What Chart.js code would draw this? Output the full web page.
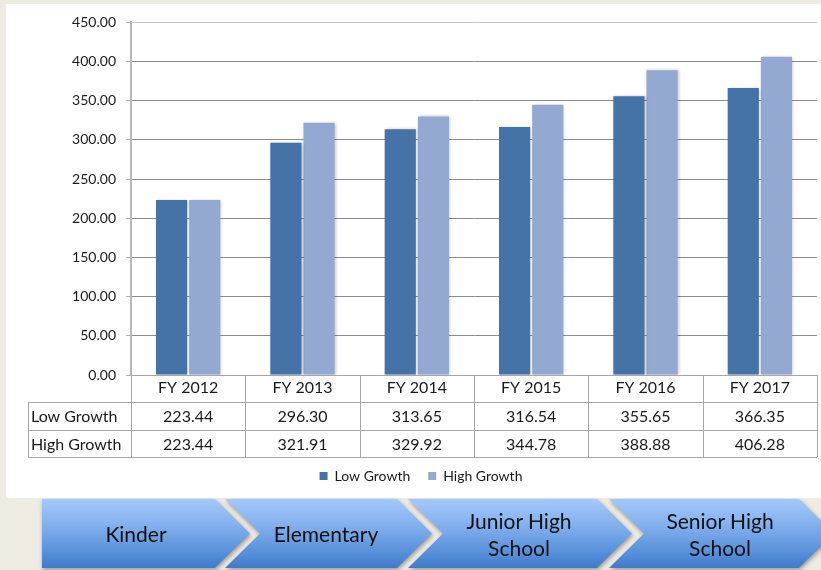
<!DOCTYPE html>
<html>
<head>
<meta charset="utf-8">
<script src="https://cdn.jsdelivr.net/npm/chart.js@4/dist/chart.umd.min.js"></script>
<style>
  html, body { margin: 0; padding: 0; }
  body { width: 821px; height: 570px; background: #eeebe3; position: relative; overflow: hidden; font-family: Lato, sans-serif; }
  #panel { position: absolute; left: 6px; top: 4px; width: 815px; height: 494px; background: #fff; }
  .chev-wrap { position: absolute; top: 499px; height: 69px; filter: drop-shadow(1px 2px 2px rgba(0,0,0,0.35)); }
  .chev { position: absolute; left: 0; top: 0; width: 100%; height: 100%;
          background: linear-gradient(to bottom, #a4c8fb 0%, #86b2ef 35%, #5a92db 75%, #3f7bcb 100%); }
  .chev-text { position: absolute; top: 0; height: 69px; display: flex; align-items: center; justify-content: center;
               text-align: center; font-size: 21px; line-height: 27px; color: #111; }
</style>
</head>
<body>
<div id="panel"><canvas id="growthChart"></canvas></div>
<div id="stages"></div>
<script>
// 数据
const years = ["FY 2012", "FY 2013", "FY 2014", "FY 2015", "FY 2016", "FY 2017"];
const lowGrowth = [223.44, 296.30, 313.65, 316.54, 355.65, 366.35];
const highGrowth = [223.44, 321.91, 329.92, 344.78, 388.88, 406.28];
const seriesNames = ["Low Growth", "High Growth"];
const stages = [["Kinder"], ["Elementary"], ["Junior High", "School"], ["Senior High", "School"]];

const FONT = "Lato, 'Open Sans', sans-serif";
const TEXT = "#1a1a1a";
const LINE = "#a6a6a6";

// data table under the plot, lined up with the x scale
const dataTablePlugin = {
    id: "dataTable",
    afterDraw(chart) {
        const ctx = chart.ctx;
        const x = chart.scales.x;
        const top = chart.chartArea.bottom;
        const rowH = [27, 28, 27];
        const y1 = top + rowH[0], y2 = y1 + rowH[1], y3 = y2 + rowH[2];
        const colW = (x.right - x.left) / years.length;
        const labelLeft = 22;

        ctx.save();
        ctx.strokeStyle = LINE;
        ctx.lineWidth = 1;
        ctx.beginPath();
        // horizontal lines
        ctx.moveTo(labelLeft, y1 + 0.5); ctx.lineTo(x.right, y1 + 0.5);
        ctx.moveTo(labelLeft, y2 + 0.5); ctx.lineTo(x.right, y2 + 0.5);
        ctx.moveTo(labelLeft, y3 + 0.5); ctx.lineTo(x.right, y3 + 0.5);
        // label column
        ctx.moveTo(labelLeft + 0.5, y1); ctx.lineTo(labelLeft + 0.5, y3);
        // column boundaries
        for (let i = 0; i <= years.length; i++) {
            const px = Math.round(x.left + i * colW) + 0.5;
            ctx.moveTo(px, top); ctx.lineTo(px, y3);
        }
        ctx.stroke();

        ctx.fillStyle = TEXT;
        ctx.font = "16px " + FONT;
        ctx.textBaseline = "middle";
        ctx.textAlign = "left";
        ctx.fillText(seriesNames[0], labelLeft + 3, (y1 + y2) / 2 + 1);
        ctx.fillText(seriesNames[1], labelLeft + 3, (y2 + y3) / 2 + 1);
        ctx.textAlign = "center";
        years.forEach((yr, i) => {
            const cx = x.getPixelForValue(i);
            ctx.fillText(lowGrowth[i].toFixed(2), cx, (y1 + y2) / 2 + 1);
            ctx.fillText(highGrowth[i].toFixed(2), cx, (y2 + y3) / 2 + 1);
        });
        ctx.restore();
    }
};

// soft shadow under the bars
const barShadowPlugin = {
    id: "barShadow",
    beforeDatasetsDraw(chart) {
        const ctx = chart.ctx;
        ctx.save();
        ctx.shadowColor = "rgba(0,0,0,0.22)";
        ctx.shadowBlur = 3;
        ctx.shadowOffsetX = 1;
        ctx.shadowOffsetY = 0;
    },
    afterDatasetsDraw(chart) {
        chart.ctx.restore();
    }
};

new Chart(document.getElementById("growthChart"), {
    type: "bar",
    data: {
        labels: years,
        datasets: [
            { label: seriesNames[0], data: lowGrowth, backgroundColor: "#4572a7" },
            { label: seriesNames[1], data: highGrowth, backgroundColor: "#94a9d1" }
        ]
    },
    options: {
        responsive: true,
        maintainAspectRatio: false,
        animation: false,
        datasets: { bar: { categoryPercentage: 0.58, barPercentage: 0.94 } },
        // left padding only nudges the legend to the right, y axis width makes up for it
        layout: { padding: { left: 19, right: 4, top: 17, bottom: 5 } },
        plugins: {
            legend: {
                position: "bottom",
                labels: { boxWidth: 8, boxHeight: 8, padding: 18, color: TEXT, font: { family: FONT, size: 14 } }
            },
            tooltip: { enabled: false }
        },
        scales: {
            x: {
                grid: { display: false },
                border: { color: LINE, width: 1 },
                ticks: { color: TEXT, padding: -5, font: { family: FONT, size: 16 } },
                afterFit: s => { s.height = 76; }
            },
            y: {
                min: 0,
                max: 450,
                ticks: {
                    stepSize: 50,
                    padding: 10,
                    color: TEXT,
                    font: { family: FONT, size: 14 },
                    callback: v => v.toFixed(2)
                },
                grid: {
                    color: c => (c.tick && c.tick.value === 450 ? "#c4c4c4" : "#8c8c8c"),
                    tickColor: "#b0b0b0",
                    tickLength: 5
                },
                border: { color: "#b8b8b8", width: 2 },
                afterFit: s => { s.width = 106; }
            }
        }
    },
    plugins: [dataTablePlugin, barShadowPlugin]
});

// chevron row under the chart
const chevrons = [
    { left: 42, right: 215, notch: false, textCx: 136 },
    { left: 225, right: 397, notch: true, textCx: 326 },
    { left: 408, right: 597, notch: true, textCx: 519 },
    { left: 609, right: 799, notch: true, textCx: 720 }
];
const stageBox = document.getElementById("stages");
chevrons.forEach((c, i) => {
    const tip = 35, h = 69;
    const w = c.right - c.left + tip;
    const wrap = document.createElement("div");
    wrap.className = "chev-wrap";
    wrap.style.left = c.left + "px";
    wrap.style.width = w + "px";
    const shape = document.createElement("div");
    shape.className = "chev";
    const pts = [[0, 0], [w - tip, 0], [w, h / 2], [w - tip, h], [0, h]];
    if (c.notch) pts.push([tip, h / 2]);
    shape.style.clipPath = "polygon(" + pts.map(p => p[0] + "px " + p[1] + "px").join(",") + ")";
    wrap.appendChild(shape);
    stageBox.appendChild(wrap);

    const t = document.createElement("div");
    t.className = "chev-text";
    t.style.left = (c.textCx - 90) + "px";
    t.style.width = "180px";
    t.style.top = "499px";
    t.innerHTML = stages[i].join("<br>");
    stageBox.appendChild(t);
});
</script>
</body>
</html>
